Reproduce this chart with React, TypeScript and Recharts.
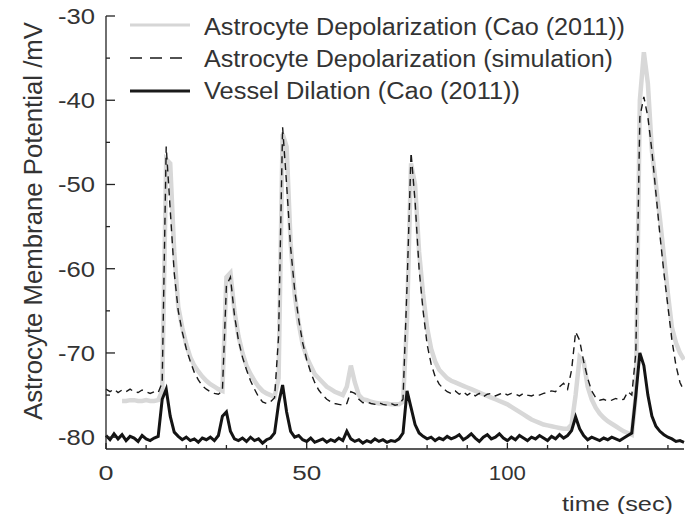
import React from 'react';
import { LineChart, Line, XAxis, YAxis, Legend } from 'recharts';

// time axis, one sample per second
const time = Array.from({ length: 145 }, (_, i) => i);

const seriesNames = [
  'Astrocyte Depolarization (Cao (2011))',
  'Astrocyte Depolarization (simulation)',
  'Vessel Dilation (Cao (2011))',
];

// measured astrocyte potential (grey)
const caoAstrocyte = [
  null, null, null, null, -75.7, -75.7, -75.6, -75.6, -75.7, -75.7,
  -75.6, -75.7, -75.7, -75.6, -74.5, -47, -47.5, -58, -64.5, -67,
  -69, -70.5, -71.5, -72.2, -72.8, -73.3, -73.7, -74, -74.3, -74.5,
  -61, -60.5, -65, -68, -70, -71.5, -72.5, -73.3, -74, -74.5,
  -74.8, -75, -75.2, -73, -44, -45.5, -57, -63, -66.5, -69,
  -70.5, -71.5, -72.5, -73, -73.5, -74, -74.3, -74.6, -74.8, -75,
  -74, -71.5, -73.5, -75, -75.5, -75.6, -75.8, -75.9, -76, -76,
  -76, -76.1, -76.1, -76.1, -75.8, -66, -47.5, -50, -58, -63,
  -67, -69.5, -71, -72, -72.5, -73, -73.3, -73.5, -73.7, -73.9,
  -74.1, -74.3, -74.5, -74.7, -74.9, -75.1, -75.3, -75.5, -75.7, -75.9,
  -76.1, -76.4, -76.7, -77, -77.3, -77.6, -77.9, -78.1, -78.3, -78.5,
  -78.6, -78.7, -78.8, -78.9, -79, -79, -78.5, -75, -70.5, -71,
  -74, -75.5, -76.5, -77.2, -77.7, -78.1, -78.4, -78.7, -79, -79.3,
  -79.5, -79.7, -75, -40, -34.3, -38, -46, -50, -54, -58.5,
  -63, -67, -68.8, -70, -70.8,
];

// simulated astrocyte potential (dashed)
const simAstrocyte = [
  -74.3, -74.6, -74.3, -74.7, -74.4, -74.6, -74.3, -74.6, -74.7, -74.4,
  -74.6, -74.8, -74.6, -74.7, -73.5, -45.5, -53, -60.5, -65, -67.5,
  -69.5, -71, -72.3, -73.2, -73.9, -74.3, -74.6, -74.8, -74.9, -74.5,
  -62, -61, -65.5, -68.5, -70.5, -72, -73.3, -74.3, -75.2, -75.8,
  -76, -75.8, -75.3, -68, -43.2, -50, -57.5, -62.5, -66, -68.8,
  -70.8, -72.3, -73.5, -74.4, -75, -75.5, -75.8, -76, -76.1, -76.2,
  -76, -74.6, -74.8, -75.5, -75.9, -75.8, -76, -76.1, -75.9, -76.1,
  -76.2, -76, -76.2, -76.1, -75.5, -62, -46.2, -52, -60, -65,
  -69, -71.3, -72.8, -73.7, -74.2, -74.6, -74.8, -74.5, -74.9, -74.6,
  -75, -74.7, -75.1, -74.8, -75.2, -74.9, -74.8, -75.1, -74.9, -74.7,
  -75, -74.8, -74.9, -75.1, -74.8, -75, -75.1, -74.9, -75, -74.8,
  -74.7, -74.5, -74.6, -74, -73.6, -74.3, -72, -67.5, -68.5, -71,
  -73, -74.5, -75.3, -75.6, -75.5, -75.7, -75.6, -75.4, -75.6, -75.5,
  -74.6, -75, -70, -42, -39.6, -42, -46, -51, -56, -60.5,
  -64.5, -68.5, -71.5, -73.5, -74.5,
];

// measured vessel dilation (black)
const caoVessel = [
  -79.8, -80.3, -79.6, -80.2, -79.7, -80.4, -79.9, -80.1, -80.5, -79.8,
  -80.2, -80.4, -80.1, -79.9, -75.5, -74.3, -77.5, -79.4, -79.9, -80.3,
  -80, -80.4, -80.2, -80.6, -80.1, -80.3, -80, -80.4, -79.8, -77.5,
  -77, -79.3, -80.2, -80.4, -80.1, -80.5, -80, -80.4, -80.2, -80.7,
  -80.3, -80.1, -79.5, -76, -73.8, -77, -79.3, -80, -79.8, -80.3,
  -80.5, -80.1, -80.6, -80.4, -80.2, -80.6, -80.3, -80.5, -80.1, -80.4,
  -79.3, -80.2, -80.5, -80.3, -80.7, -80.4, -80.6, -80.2, -80.5, -80.3,
  -80.6, -80.4, -80.5, -80.2, -79.5, -74.5, -76.5, -78.5, -79.5, -79.9,
  -80.2, -80, -80.4, -80.1, -80.3, -79.9, -80.2, -80, -79.7, -80.3,
  -80, -79.6, -80.1, -80.5, -80, -79.7, -80.2, -80, -79.6, -80.1,
  -80.4, -80, -80.3, -79.8, -80.1, -80.4, -80, -80.2, -79.8, -80.1,
  -80.4, -79.9, -80.2, -79.7, -80.1, -79.8, -79.2, -77.6, -79, -79.8,
  -80.3, -80, -80.2, -80.4, -80.1, -80.3, -80, -80.2, -80.4, -80.1,
  -79.8, -79.5, -75, -70, -71.5, -75, -77.5, -78.7, -79.3, -79.7,
  -80, -80.2, -80.5, -80.4, -80.6,
];

const xTicks = [0, 10, 20, 30, 40, 50, 60, 70, 80, 90, 100, 110, 120, 130, 140];
const xLabels = [0, 50, 100];
const yTicks = [-80, -75, -70, -65, -60, -55, -50, -45, -40, -35, -30];

const data = time.map((t, i) => ({
  t,
  cao: caoAstrocyte[i],
  sim: simAstrocyte[i],
  vessel: caoVessel[i],
}));

const FONT = '"Liberation Sans", Arial, Helvetica, sans-serif';
const TEXT = '#333';
const AXIS = '#222';

const YTick = (props: any) => {
  const { x, y, payload } = props;
  const v = payload.value;
  const major = v % 10 === 0;
  return (
    <g>
      <line x1={x} x2={x + (major ? 9 : 4)} y1={y} y2={y} stroke={AXIS} strokeWidth={1.3} />
      {major && (
        <text x={x - 11} y={y + 8} textAnchor="end" fontSize={22} fontFamily={FONT} fill={TEXT}
          textLength={37} lengthAdjust="spacingAndGlyphs">
          {v}
        </text>
      )}
    </g>
  );
};

const XTick = (props: any) => {
  const { x, y, payload } = props;
  const v = payload.value;
  const labelled = xLabels.includes(v);
  const w = String(v).length === 1 ? 15 : String(v).length === 2 ? 29 : 37;
  return (
    <g>
      <line x1={x} x2={x} y1={y} y2={y - (labelled ? 6 : 4)} stroke={AXIS} strokeWidth={1.3} />
      {labelled && (
        <text x={x} y={y + 31} textAnchor="middle" fontSize={20} fontFamily={FONT} fill={TEXT}
          textLength={w} lengthAdjust="spacingAndGlyphs">
          {v}
        </text>
      )}
    </g>
  );
};

const legendWidths = [421, 409, 316];

const LegendBox = (props: any) => {
  const { payload } = props;
  return (
    <svg width={685} height={110} style={{ display: 'block' }}>
      {(payload || []).map((p: any, i: number) => {
        const yLine = 17 + i * 33;
        const yText = 27 + i * 32;
        const dashed = i === 1;
        return (
          <g key={i}>
            <line
              x1={122} x2={dashed ? 174 : 182} y1={yLine} y2={yLine}
              stroke={i === 0 ? '#d6d6d6' : '#1a1a1a'}
              strokeWidth={i === 0 ? 3 : i === 2 ? 3 : 1.4}
              strokeDasharray={dashed ? '12 8' : undefined}
            />
            <text x={196} y={yText} fontSize={23} fontFamily={FONT} fill={TEXT}
              textLength={legendWidths[i]} lengthAdjust="spacingAndGlyphs">
              {p.value}
            </text>
          </g>
        );
      })}
    </svg>
  );
};

export default function App() {
  return (
    <div style={{ marginBottom: -8 }}>
      <style>{'.recharts-surface { overflow: visible; }'}</style>
      <LineChart width={685} height={514} data={data} margin={{ top: 8, right: 9, left: 0, bottom: 0 }}>
        <XAxis
          dataKey="t" type="number" domain={[0, 144]} ticks={xTicks} interval={0}
          height={73} tickSize={0} tickMargin={0} tickLine={false}
          axisLine={{ stroke: AXIS, strokeWidth: 1.3 }}
          tick={<XTick />}
          label={{
            content: (p: any) => (
              <text x={p.viewBox.x + 567} y={p.viewBox.y + 62} textAnchor="end" fontSize={21}
                fontFamily={FONT} fill={TEXT} textLength={111} lengthAdjust="spacingAndGlyphs">
                time (sec)
              </text>
            ),
          }}
        />
        <YAxis
          type="number" domain={[-81.4, -30]} ticks={yTicks} interval={0}
          width={98} tickSize={0} tickMargin={0} tickLine={false}
          axisLine={{ stroke: AXIS, strokeWidth: 1.3 }}
          tick={<YTick />}
          label={{
            content: (p: any) => (
              <text transform={`translate(${p.viewBox.x + 34},${p.viewBox.y + 205}) rotate(-90)`}
                textAnchor="middle" fontSize={26} fontFamily={FONT} fill={TEXT}
                textLength={398} lengthAdjust="spacingAndGlyphs">
                Astrocyte Membrane Potential /mV
              </text>
            ),
          }}
        />
        <Legend
          layout="vertical" align="center" verticalAlign="middle"
          wrapperStyle={{ position: 'absolute', top: 0, left: 0, width: 685, height: 110 }}
          content={<LegendBox />}
        />
        <Line
          dataKey="cao" name={seriesNames[0]} type="linear" stroke="#d8d8d8" strokeWidth={4.5}
          dot={false} isAnimationActive={false} connectNulls={false}
        />
        <Line
          dataKey="sim" name={seriesNames[1]} type="linear" stroke="#1a1a1a" strokeWidth={1.4}
          strokeDasharray="7 5" dot={false} isAnimationActive={false}
        />
        <Line
          dataKey="vessel" name={seriesNames[2]} type="linear" stroke="#141414" strokeWidth={3}
          dot={false} isAnimationActive={false}
        />
      </LineChart>
    </div>
  );
}
